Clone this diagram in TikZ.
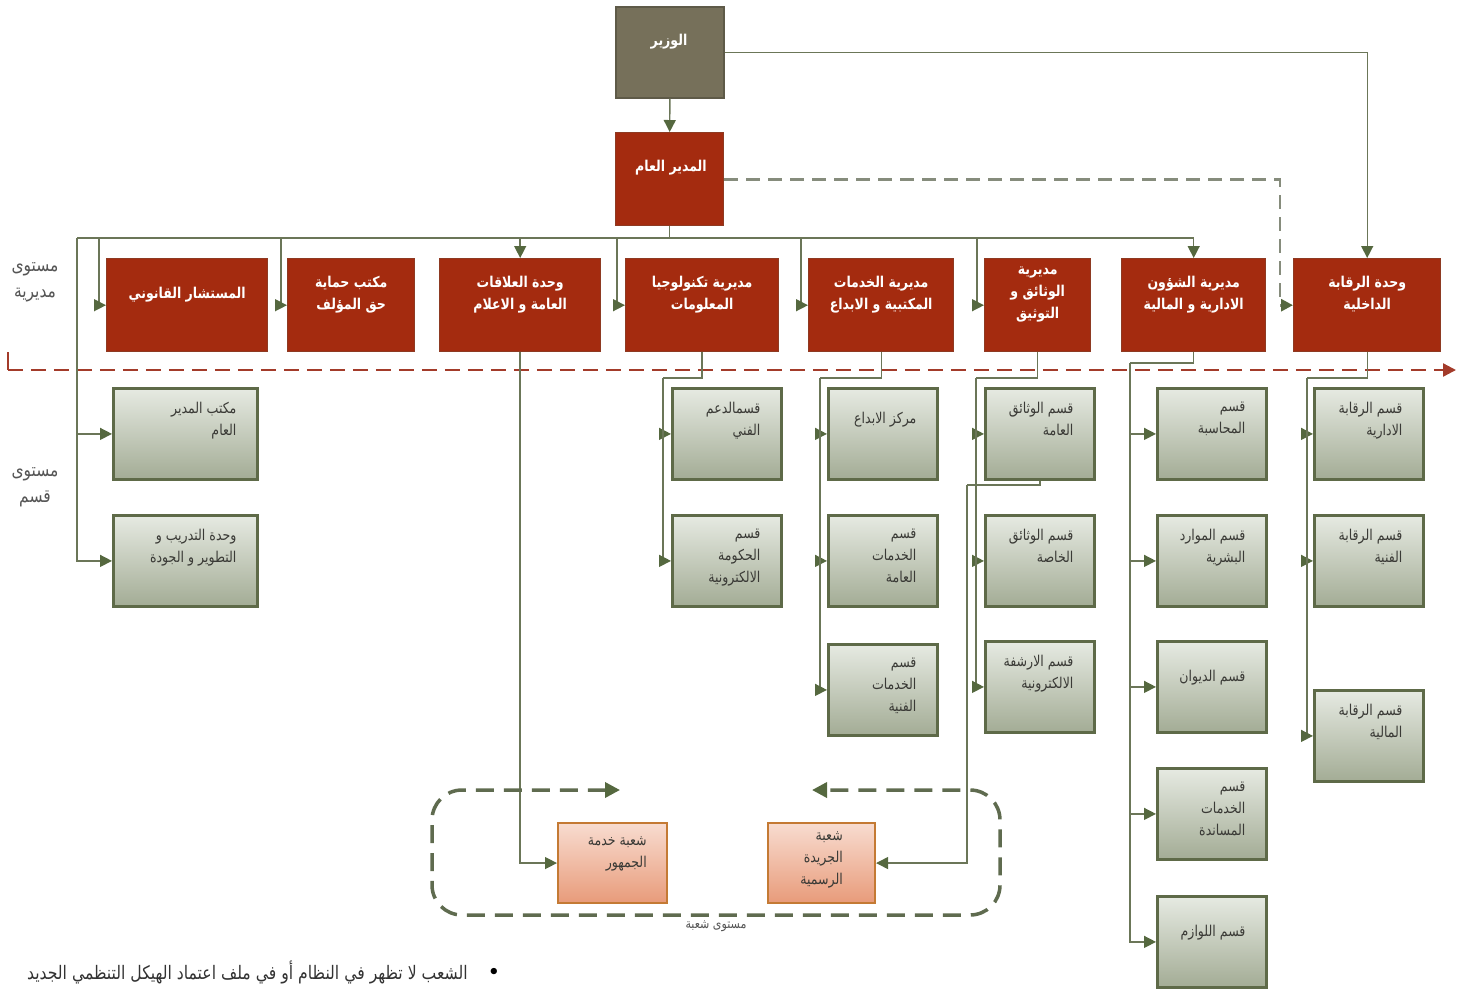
\documentclass[tikz,border=0pt]{standalone}
\usepackage{fontspec}
\newfontfamily\arabicfont[Script=Arabic, FakeStretch=0.84]{DejaVu Sans}
\TeXXeTstate=1
\usetikzlibrary{arrows.meta}

\definecolor{minfill}{HTML}{76705A}
\definecolor{minedge}{HTML}{5E5A48}
\definecolor{dirfill}{HTML}{A42B0F}
\definecolor{diredge}{HTML}{8E3A22}
\definecolor{secedge}{HTML}{5E6A48}
\definecolor{sectop}{HTML}{E6EAE2}
\definecolor{secbot}{HTML}{A3AC95}
\definecolor{secink}{HTML}{3A3A36}
\definecolor{brtop}{HTML}{F8DCD0}
\definecolor{brbot}{HTML}{E89B7A}
\definecolor{bredge}{HTML}{C47A34}
\definecolor{lineolive}{HTML}{6B7658}
\definecolor{arrowgreen}{HTML}{55683F}
\definecolor{lvlred}{HTML}{A33B2A}
\definecolor{gmdash}{HTML}{868C7C}
\definecolor{brdash}{HTML}{5F6B4F}
\definecolor{lvlink}{HTML}{555555}

\begin{document}
\begin{tikzpicture}[x=0.02cm, y=-0.02cm,
    conn/.style={draw=lineolive, line width=0.8pt},
    arr/.style={conn, -{Triangle[length=0.24cm, width=0.24cm, color=arrowgreen]}},
    minbox/.style={draw=minedge, fill=minfill, line width=1pt, anchor=north west,
      minimum width=2.16cm, minimum height=1.82cm},
    dirbox/.style={draw=diredge, fill=dirfill, line width=0.8pt, anchor=north west,
      minimum height=1.86cm},
    secbox/.style={draw=secedge, line width=1.6pt, top color=sectop, bottom color=secbot,
      anchor=north west, minimum width=2.18cm, minimum height=1.82cm},
    brbox/.style={draw=bredge, line width=1.2pt, top color=brtop, bottom color=brbot,
      anchor=north west, minimum width=2.18cm, minimum height=1.6cm},
    dirtxt/.style={text=white, inner sep=0pt, align=center, yshift=0.22cm,
      font=\arabicfont\bfseries\fontsize{8.5}{12.5}\selectfont},
    sectxt/.style={text=secink, inner sep=0pt, align=right, anchor=north east,
      xshift=-0.44cm, yshift=-0.3cm, font=\arabicfont\fontsize{8.5}{12.5}\selectfont},
    lvltxt/.style={text=lvlink, align=center, font=\arabicfont\fontsize{10.5}{15}\selectfont},
    reddash/.style={draw=lvlred, line width=1.3pt, dash pattern=on 0.3cm off 0.16cm},
  ]
  \useasboundingbox (0,0) rectangle (1466,988);

  % top
  \node[minbox] (min) at (615,6) {};
  \node[text=white, inner sep=0pt, font=\arabicfont\bfseries\fontsize{8.5}{12}\selectfont]
    (minlbl) at (669,42) {\beginR الوزير\endR};
  \node[dirbox, minimum width=2.16cm] (gm) at (615,132) {};
  \node[text=white, inner sep=0pt, font=\arabicfont\bfseries\fontsize{8.5}{12}\selectfont]
    (gmlbl) at (671,168) {\beginR المدير العام\endR};

  % directorate level
  \node[dirbox, minimum width=3.22cm, label={[dirtxt]center:{\beginR المستشار القانوني\endR}}] (legal) at (106,258) {};
  \node[dirbox, minimum width=2.54cm, label={[dirtxt]center:{\beginR مكتب حماية\endR\\\beginR حق المؤلف\endR}}] (copy) at (287,258) {};
  \node[dirbox, minimum width=3.22cm, label={[dirtxt]center:{\beginR وحدة العلاقات\endR\\\beginR العامة و الاعلام\endR}}] (pr) at (439,258) {};
  \node[dirbox, minimum width=3.06cm, label={[dirtxt]center:{\beginR مديرية تكنولوجيا\endR\\\beginR المعلومات\endR}}] (it) at (625,258) {};
  \node[dirbox, minimum width=2.9cm, label={[dirtxt]center:{\beginR مديرية الخدمات\endR\\\beginR المكتبية و الابداع\endR}}] (lib) at (808,258) {};
  \node[dirbox, minimum width=2.12cm, label={[dirtxt]center:{\beginR مديرية\endR\\\beginR الوثائق و\endR\\\beginR التوثيق\endR}}] (doc) at (984,258) {};
  \node[dirbox, minimum width=2.88cm, label={[dirtxt]center:{\beginR مديرية الشؤون\endR\\\beginR الادارية و المالية\endR}}] (adm) at (1121,258) {};
  \node[dirbox, minimum width=2.94cm, label={[dirtxt]center:{\beginR وحدة الرقابة\endR\\\beginR الداخلية\endR}}] (aud) at (1293,258) {};

  % section level
  \node[secbox, minimum width=2.88cm, label={[sectxt]north east:{\beginR مكتب المدير\endR\\\beginR العام\endR}}] (gmo) at (112,387) {};
  \node[secbox, minimum width=2.88cm, label={[sectxt]north east:{\beginR وحدة التدريب و\endR\\\beginR التطوير و الجودة\endR}}] (trn) at (112,514) {};
  \node[secbox, label={[sectxt]north east:{\beginR قسمالدعم\endR\\\beginR الفني\endR}}] (sup) at (671,387) {};
  \node[secbox, label={[sectxt]north east:{\beginR قسم\endR\\\beginR الحكومة\endR\\\beginR الالكترونية\endR}}] (egov) at (671,514) {};
  \node[secbox, label={[sectxt, yshift=-0.2cm]north east:{\beginR مركز الابداع\endR}}] (crt) at (827,387) {};
  \node[secbox, label={[sectxt]north east:{\beginR قسم\endR\\\beginR الخدمات\endR\\\beginR العامة\endR}}] (gsv) at (827,514) {};
  \node[secbox, label={[sectxt]north east:{\beginR قسم\endR\\\beginR الخدمات\endR\\\beginR الفنية\endR}}] (tsv) at (827,643) {};
  \node[secbox, label={[sectxt]north east:{\beginR قسم الوثائق\endR\\\beginR العامة\endR}}] (dgen) at (984,387) {};
  \node[secbox, label={[sectxt]north east:{\beginR قسم الوثائق\endR\\\beginR الخاصة\endR}}] (dpriv) at (984,514) {};
  \node[secbox, label={[sectxt]north east:{\beginR قسم الارشفة\endR\\\beginR الالكترونية\endR}}] (darc) at (984,640) {};
  \node[secbox, label={[sectxt]north east:{\beginR قسم\endR\\\beginR المحاسبة\endR}}] (acc) at (1156,387) {};
  \node[secbox, label={[sectxt]north east:{\beginR قسم الموارد\endR\\\beginR البشرية\endR}}] (hr) at (1156,514) {};
  \node[secbox, label={[sectxt, yshift=-0.3cm]north east:{\beginR قسم الديوان\endR}}] (dwn) at (1156,640) {};
  \node[secbox, label={[sectxt]north east:{\beginR قسم\endR\\\beginR الخدمات\endR\\\beginR المساندة\endR}}] (ssv) at (1156,767) {};
  \node[secbox, label={[sectxt, yshift=-0.3cm]north east:{\beginR قسم اللوازم\endR}}] (sto) at (1156,895) {};
  \node[secbox, label={[sectxt]north east:{\beginR قسم الرقابة\endR\\\beginR الادارية\endR}}] (aadm) at (1313,387) {};
  \node[secbox, label={[sectxt]north east:{\beginR قسم الرقابة\endR\\\beginR الفنية\endR}}] (atec) at (1313,514) {};
  \node[secbox, label={[sectxt]north east:{\beginR قسم الرقابة\endR\\\beginR المالية\endR}}] (afin) at (1313,689) {};

  % branch level
  \node[brbox, label={[sectxt, xshift=0.02cm, yshift=0.02cm]north east:{\beginR شعبة خدمة\endR\\\beginR الجمهور\endR}}] (pub) at (557,822) {};
  \node[brbox, minimum width=2.14cm, label={[sectxt, anchor=north, xshift=0.44cm, yshift=0.12cm]north:{\beginR شعبة\endR\\\beginR الجريدة\endR\\\beginR الرسمية\endR}}] (gaz) at (767,822) {};

  % level marks
  \node[lvltxt] (lvldir) at (35,282) {\beginR مستوى\endR\\\beginR مديرية\endR};
  \node[lvltxt] (lvlsec) at (35,487) {\beginR مستوى\endR\\\beginR قسم\endR};
  \node[text=lvlink, font=\arabicfont\fontsize{7.5}{9}\selectfont] (lvlbr) at (716,926) {\beginR مستوى شعبة\endR};
  \coordinate (lvlA) at (8,370);
  \coordinate (lvlB) at (1456,370);
  \draw[draw=lvlred, line width=1.3pt] (8,352) -- (lvlA);
  \draw[reddash, -{Triangle[length=0.26cm, width=0.26cm, color=lvlred]}] (lvlA) -- (lvlB);

  % bus
  \coordinate (busL) at (77,238);
  \coordinate (tapLegal) at (99,238);
  \coordinate (tapCopy) at (281,238);
  \coordinate (tapIT) at (617,238);
  \coordinate (tapLib) at (801,238);
  \coordinate (tapDoc) at (977,238);
  \coordinate (tapAud) at (1280,250);
  \draw[arr] (min.south) -- (gm.north);
  \draw[arr] (min.east) -| (aud.north);
  \draw[draw=gmdash, line width=1.6pt, dash pattern=on 0.28cm off 0.16cm,
    -{Triangle[length=0.24cm, width=0.24cm, color=arrowgreen]}] (gm.east) -| (tapAud) |- (aud.west);
  \draw[conn] (gm.south) -- (gm.south |- busL);
  \draw[arr] (busL) -| (adm.north);
  \draw[arr] (pr.north |- busL) -- (pr.north);
  \draw[arr] (tapLegal) |- (legal.west);
  \draw[arr] (tapCopy) |- (copy.west);
  \draw[arr] (tapIT) |- (it.west);
  \draw[arr] (tapLib) |- (lib.west);
  \draw[arr] (tapDoc) |- (doc.west);

  % section feeds
  \coordinate (itDrop) at (663,378);
  \coordinate (libDrop) at (820,378);
  \coordinate (docDrop) at (976,378);
  \coordinate (admDrop) at (1130,363);
  \coordinate (audDrop) at (1307,378);
  \coordinate (gazDrop) at (967,485);
  \draw[arr] (busL) |- (gmo.west);
  \draw[arr] (busL) |- (trn.west);
  \draw[conn] (it.south) |- (itDrop);
  \draw[arr] (itDrop) |- (sup.west);
  \draw[arr] (itDrop) |- (egov.west);
  \draw[conn] (lib.south) |- (libDrop);
  \draw[arr] (libDrop) |- (crt.west);
  \draw[arr] (libDrop) |- (gsv.west);
  \draw[arr] (libDrop) |- (tsv.west);
  \draw[conn] (doc.south) |- (docDrop);
  \draw[arr] (docDrop) |- (dgen.west);
  \draw[arr] (docDrop) |- (dpriv.west);
  \draw[arr] (docDrop) |- (darc.west);
  \draw[conn] (adm.south) |- (admDrop);
  \draw[arr] (admDrop) |- (acc.west);
  \draw[arr] (admDrop) |- (hr.west);
  \draw[arr] (admDrop) |- (dwn.west);
  \draw[arr] (admDrop) |- (ssv.west);
  \draw[arr] (admDrop) |- (sto.west);
  \draw[conn] (aud.south) |- (audDrop);
  \draw[arr] (audDrop) |- (aadm.west);
  \draw[arr] (audDrop) |- (atec.west);
  \draw[arr] (audDrop) |- (afin.west);

  % branch feeds
  \draw[arr] (pr.south) |- (pub.west);
  \draw[conn] (dgen.south) |- (gazDrop);
  \draw[arr] (gazDrop) |- (gaz.east);
  \draw[draw=brdash, line width=2pt, dash pattern=on 0.36cm off 0.2cm, rounded corners=0.6cm,
    {Triangle[length=0.3cm, width=0.3cm, color=arrowgreen]}-{Triangle[length=0.3cm, width=0.3cm, color=arrowgreen]}]
    (620,790) -- (432,790) -- (432,915) -- (1000,915) -- (1000,790) -- (812,790);

  % note
  \node[anchor=east, inner sep=0pt, text=black!80, font=\arabicfont\fontsize{10.6}{12}\selectfont]
    (note) at (468,972) {\beginR الشعب لا تظهر في النظام أو في ملف اعتماد الهيكل التنظمي الجديد\endR};
  \node[inner sep=0pt, font=\fontsize{9}{10}\selectfont] (bul) at (494,972) {$\bullet$};
\end{tikzpicture}
\end{document}
